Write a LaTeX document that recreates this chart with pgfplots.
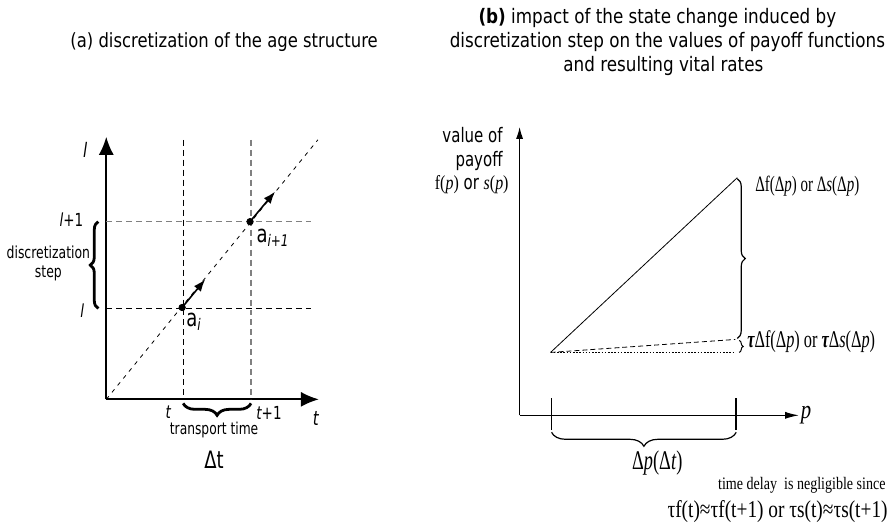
\documentclass[border=0pt]{standalone}
\usepackage{fontspec}
\usepackage{pgfplots}
\pgfplotsset{compat=1.18}
\usetikzlibrary{arrows.meta,decorations.pathreplacing}
\newfontfamily\cs{DejaVu Sans}[FakeStretch=0.75]
\newfontfamily\ct{DejaVu Sans}[FakeStretch=0.84]
\newfontfamily\ser{Liberation Serif}[FakeStretch=0.8]
\newfontfamily\sern{Liberation Serif}[FakeStretch=0.68]
\newcommand{\fs}[1]{\fontsize{#1}{#1}\selectfont}
\begin{document}
\begin{tikzpicture}
\begin{axis}[
    at={(0,0)}, anchor=south west,
    scale only axis, width=447.5pt, height=265pt,
    xmin=0, xmax=895, ymin=0, ymax=530, y dir=reverse,
    hide axis, clip=false,
]
\draw[draw=none] (0,0) rectangle (895,530);
% ---------- panel (a) ----------
\addplot[line width=1pt, -{Latex[length=9pt,width=7.5pt]}] coordinates {(105,400) (105,137)};
\addplot[line width=1pt, -{Latex[length=9pt,width=7.5pt]}] coordinates {(105,400) (318,400)};
\addplot[black, line width=0.5pt, dash pattern=on 3pt off 2pt] coordinates {(182,140) (182,400)};
\addplot[gray, line width=0.6pt, dash pattern=on 3pt off 2pt] coordinates {(250,140) (250,400)};
\addplot[gray, line width=0.6pt, dash pattern=on 3pt off 2pt] coordinates {(105,222) (310,222)};
\addplot[black, line width=0.5pt, dash pattern=on 3pt off 2pt] coordinates {(105,309) (310,309)};
\addplot[black, line width=0.4pt, dash pattern=on 2pt off 2.5pt] coordinates {(105,400) (317,140)};
\addplot[line width=0.8pt, -{Latex[length=6pt,width=4.5pt]}] coordinates {(181,308) (204,280)};
\addplot[line width=0.8pt, -{Latex[length=6pt,width=4.5pt]}] coordinates {(249,222) (274,192)};
\addplot[only marks, mark=*, mark size=1.6pt] coordinates {(181,308) (249,222)};
\draw[decorate, decoration={brace, amplitude=4pt}, line width=1.4pt] (97,309) -- (97,222);
\draw[decorate, decoration={brace, amplitude=6pt}, line width=1.4pt] (250,404) -- (182,404);
\node[font=\ct\fs{9.8}] at (223,42) {(a) discretization of the age structure};
\node[font=\cs\fs{10}\itshape] at (84,150) {l};
\node[font=\cs\fs{10}] at (315,419) {\itshape t};
\node[font=\cs\fs{9}, anchor=east] at (89,220) {{\itshape l}+1};
\node[font=\cs\fs{9}\itshape] at (81,311) {l};
\node[font=\cs\fs{8.3}, align=center] at (47,264) {discretization\\[1pt]step};
\node[font=\cs\fs{9}\itshape] at (167,413) {t};
\node[font=\cs\fs{9}] at (268,414) {{\itshape t}+1};
\node[font=\cs\fs{8.2}] at (213,431) {transport time};
\node[font=\cs\fs{12}] at (213,461) {Δt};
\node[font=\cs\fs{12}] at (193,322) {a\textsubscript{\itshape i}};
\node[font=\cs\fs{12}] at (272,238) {a\textsubscript{\itshape i+1}};
% ---------- panel (b) ----------
\addplot[line width=0.7pt, -{Latex[length=6pt,width=3.5pt]}] coordinates {(519,416) (519,127)};
\addplot[line width=0.7pt, -{Latex[length=7pt,width=3.5pt]}] coordinates {(519,416) (799,416)};
\addplot[line width=0.4pt] coordinates {(550,353) (737,178)};
\addplot[line width=0.4pt, dash pattern=on 2.5pt off 1.5pt] coordinates {(550,353) (735,340)};
\addplot[line width=0.4pt, dash pattern=on 0.8pt off 0.8pt] coordinates {(550,353) (735,353)};
\addplot[line width=0.9pt] coordinates {(551,399) (551,431)};
\addplot[line width=0.9pt] coordinates {(736,399) (736,431)};
\draw[decorate, decoration={brace, amplitude=4pt}, line width=0.6pt] (737,179) -- (737,339);
\draw[decorate, decoration={brace, amplitude=2pt}, line width=0.5pt] (739,341) -- (739,353);
\draw[decorate, decoration={brace, amplitude=7pt}, line width=0.6pt] (736,433) -- (551,433);
\node[font=\ct\fs{10}] at (657,18) {{\bfseries (b)} impact of the state change induced by};
\node[font=\ct\fs{10}] at (667,42) {discretization step on the values of payoff functions};
\node[font=\ct\fs{10}] at (663,66) {and resulting vital rates};
\node[font=\cs\fs{10}, anchor=east] at (509,135) {value of};
\node[font=\cs\fs{10}, anchor=east] at (509,161) {payoff};
\node[font=\cs\fs{10}, anchor=east] at (515,185) {{\ser f(\itshape p\upshape)} or {\ser\itshape s\upshape(\itshape p\upshape)}};
\node[font=\sern\fs{11}, anchor=west] at (748,186) {Δf(Δ\textit{p}) or Δ\textit{s}(Δ\textit{p})};
\node[font=\sern\fs{12}, anchor=west] at (740,342) {{\bfseries\itshape τ}Δf(Δ\textit{p}) or {\bfseries\itshape τ}Δ\textit{s}(Δ\textit{p})};
\node[font=\ser\fs{13}\itshape] at (806,416) {p};
\node[font=\sern\fs{13.5}] at (657,464) {Δ\textit{p}(Δ\textit{t})};
\node[font=\ser\fs{8.8}, anchor=east, inner sep=0pt] at (886,486) {time delay\ \ is negligible since};
\node[font=\ser\fs{12.1}, anchor=east, inner sep=0pt] at (888,512) {τf(t)≈τf(t+1) or τs(t)≈τs(t+1)};
\end{axis}
\end{tikzpicture}
\end{document}
